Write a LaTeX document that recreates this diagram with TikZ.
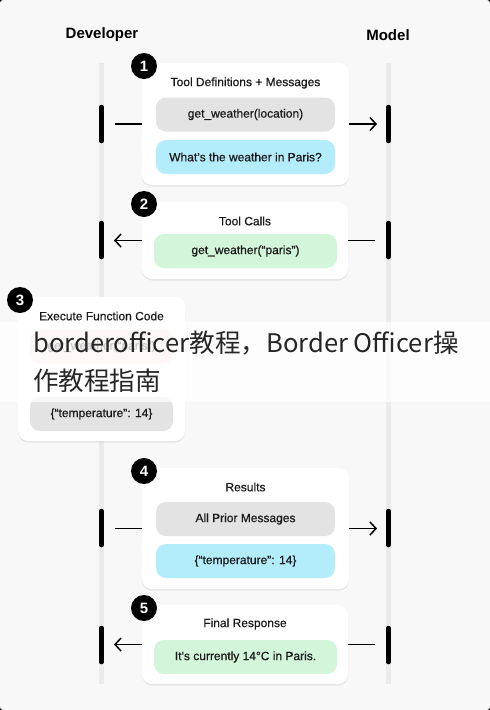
\documentclass[tikz,border=0pt]{standalone}
\usepackage{fontspec}
\setmainfont{Liberation Sans}
\newfontfamily\medfont{Liberation Sans}[FakeBold=0.6]
\newfontfamily\cjk{Noto Sans CJK SC}
\usetikzlibrary{shadows,arrows.meta}
\definecolor{bgcol}{HTML}{F8F8F8}
\definecolor{lifecol}{HTML}{EBEBEB}
\definecolor{greypill}{HTML}{E3E3E3}
\definecolor{bluepill}{HTML}{B3ECFB}
\definecolor{greenpill}{HTML}{D3F5D9}
\definecolor{redpill}{HTML}{FDE3E1}
\definecolor{inkcol}{HTML}{1A1A1A}
\tikzset{
  card/.style={fill=white,rounded corners=10pt,inner sep=0pt,
    drop shadow={opacity=0.16,shadow xshift=0pt,shadow yshift=-1.5pt}},
  pill/.style={rounded corners=10pt,minimum width=179pt,minimum height=34pt,
    inner sep=0pt,text=inkcol,font=\medfont\fontsize{12}{14}\selectfont},
  cardtitle/.style={text=inkcol,font=\medfont\fontsize{12}{14}\selectfont},
  badge/.style={circle,fill=black,text=white,minimum size=26pt,inner sep=0pt,
    font=\bfseries\fontsize{15}{15}\selectfont},
  header/.style={font=\bfseries\fontsize{15}{18}\selectfont},
  msg/.style={line width=1.5pt,-{Straight Barb[length=6pt,width=13pt,line width=1.5pt]}},
  plain/.style={line width=1.5pt},
}
\begin{document}
\begin{tikzpicture}[x=1pt,y=-1pt]
\fill[black] (0,0) rectangle (490,710);
\fill[bgcol,rounded corners=3pt] (0,0) rectangle (490,710);
\useasboundingbox (0,0) rectangle (490,710);

\node[header] (dev) at (102,35) {Developer};
\node[header] (mod) at (388,35) {Model};

% lifelines
\draw[lifecol,line width=5pt] (101.5,63) -- (101.5,684);
\draw[lifecol,line width=5pt] (388.5,63) -- (388.5,684);
\foreach \y in {124,240,528,645}{
  \draw[line width=4.5pt,line cap=round] (101.5,\y-17) -- (101.5,\y+17);
  \draw[line width=4.5pt,line cap=round] (388.5,\y-17) -- (388.5,\y+17);
}

% step 1
\node[card,minimum width=207pt,minimum height=122pt] (b1) at (245.5,124) {};
\node[badge] (n1) at (144,66) {1};
\node[cardtitle] (t1) at (245.5,83) {Tool Definitions + Messages};
\node[pill,fill=greypill] (p1a) at (245.5,114.5) {get\_weather(location)};
\node[pill,fill=bluepill] (p1b) at (245.5,157) {What’s the weather in Paris?};
\coordinate (d1) at (115,124);
\coordinate (m1) at (377,124);
\draw[plain] (d1) -- (b1.west);
\draw[msg] (b1.east) -- (m1);

% step 2
\node[card,minimum width=206pt,minimum height=77pt] (b2) at (245,240.5) {};
\node[badge] (n2) at (144,204) {2};
\node[cardtitle] (t2) at (245,221) {Tool Calls};
\node[pill,fill=greenpill,minimum width=183pt] (p2) at (245.5,251) {get\_weather(“paris”)};
\coordinate (d2) at (114,240.5);
\coordinate (m2) at (375,240.5);
\draw[msg] (b2.west) -- (d2);
\draw[plain] (b2.east) -- (m2);

% step 3
\node[card,minimum width=167pt,minimum height=144pt] (b3) at (101.5,369) {};
\node[badge] (n3) at (20,300) {3};
\node[cardtitle] (t3) at (101.5,316) {Execute Function Code};
\node[pill,fill=redpill,minimum width=143pt] (p3a) at (101.5,346.5) {get\_weather(“paris”)};
\node[pill,fill=greypill,minimum width=143pt] (p3b) at (101.5,414) {\{“temperature”: 14\}};

% step 4
\node[card,minimum width=207pt,minimum height=121pt] (b4) at (245.5,528.5) {};
\node[badge] (n4) at (144,471) {4};
\node[cardtitle] (t4) at (245.5,487) {Results};
\node[pill,fill=greypill] (p4a) at (245.5,519) {All Prior Messages};
\node[pill,fill=bluepill] (p4b) at (245.5,561) {\{“temperature”: 14\}};
\coordinate (d4) at (115,528.5);
\coordinate (m4) at (377,528.5);
\draw[plain] (d4) -- (b4.west);
\draw[msg] (b4.east) -- (m4);

% step 5
\node[card,minimum width=206pt,minimum height=79pt] (b5) at (245,644.5) {};
\node[badge] (n5) at (144,608) {5};
\node[cardtitle] (t5) at (245,624) {Final Response};
\node[pill,fill=greenpill,minimum width=183pt] (p5) at (245.5,657) {It’s currently 14°C in Paris.};
\coordinate (d5) at (114,644.5);
\coordinate (m5) at (375,644.5);
\draw[msg] (b5.west) -- (d5);
\draw[plain] (b5.east) -- (m5);

% overlay band
\fill[white,opacity=0.75] (0,322) rectangle (490,402);
\node[anchor=base west,inner sep=0pt,text=black!85,font=\cjk\fontsize{25.6}{30}\selectfont] (wm1) at (33,352) {borderofficer教程，Border Officer操};
\node[anchor=base west,inner sep=0pt,text=black!85,font=\cjk\fontsize{25.6}{30}\selectfont] (wm2) at (33,390) {作教程指南};
\end{tikzpicture}
\end{document}
